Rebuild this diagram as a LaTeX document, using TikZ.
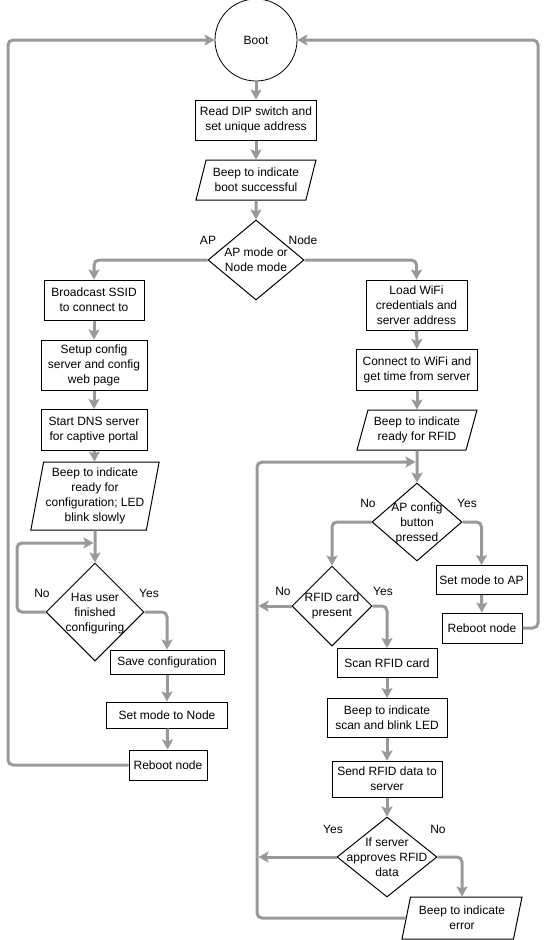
\documentclass[tikz,border=0pt]{standalone}
\usepackage{fontspec}
\setmainfont{Liberation Sans}
\usetikzlibrary{shapes.geometric,arrows.meta}
\definecolor{flowgray}{HTML}{999999}

\begin{document}
\begin{tikzpicture}[x=1pt,y=-1pt,
  every node/.style={font=\fontsize{12}{15}\selectfont, align=center},
  process/.style={draw, line width=1pt, inner sep=2pt},
  io/.style={trapezium, trapezium left angle=70, trapezium right angle=110,
    trapezium stretches body, draw, line width=1pt, inner sep=2pt,
    minimum width=120pt, minimum height=40pt},
  decision/.style={diamond, draw, line width=1pt, inner sep=0pt},
  flow/.style={draw=flowgray, line width=3pt, rounded corners=5pt,
    -{Stealth[length=10pt,width=11pt,inset=2pt]}},
]
\useasboundingbox (0,0) rectangle (548,940);

% Parameters
\def\leftrail{8}
\def\rightrail{538}
\def\looprail{257}

% Rails
\coordinate (leftrail) at (\leftrail,400);
\coordinate (rightrail) at (\rightrail,400);
\coordinate (looprail) at (\looprail,700);
\coordinate (cfgrail) at (17,580);
\coordinate (cfgin) at (93.5,543);
\coordinate (rfidin) at (415.5,462);
\coordinate (rfidno) at (\looprail+1.5,606);
\coordinate (approveyes) at (\looprail+1.5,857);

% Common part
\node[circle, draw, line width=0.8pt, minimum size=82pt, inner sep=0pt] (boot) at (256,40) {Boot};
\node[process, minimum width=121pt, minimum height=40pt] (readdip) at (256,120) {Read DIP switch and\\set unique address};
\node[io] (beepboot) at (256,180) {Beep to indicate\\boot successful};
\node[decision, minimum width=96pt, minimum height=80pt] (mode) at (256,260) {};
\node (modetext) at (mode) {AP mode or\\Node mode};
\node (apL) at (208,240) {AP};
\node (nodeL) at (303,240) {Node};

% AP mode
\node[process, minimum width=100pt, minimum height=40pt] (bcast) at (94,300) {Broadcast SSID\\to connect to};
\node[process, minimum width=106pt, minimum height=50pt] (setup) at (94,365) {Setup config\\server and config\\web page};
\node[process, minimum width=106pt, minimum height=41pt] (dns) at (94,430) {Start DNS server\\for captive portal};
\node[io, trapezium left angle=78, trapezium right angle=102, minimum width=120pt, minimum height=68pt] (beepcfg) at (95,496) {Beep to indicate\\ready for\\configuration; LED\\blink slowly};
\node[decision, minimum width=98pt, minimum height=98pt] (finished) at (95,612) {};
\node (finishedtext) at (95,614) {Has user\\finished\\configuring};
\node (finishedno) at (42,593) {No};
\node (finishedyes) at (149,593) {Yes};
\node[process, minimum width=114pt, minimum height=24pt] (savecfg) at (167,662) {Save configuration};
\node[process, minimum width=121pt, minimum height=26pt] (setnode) at (167,715) {Set mode to Node};
\node[process, minimum width=78pt, minimum height=30pt] (rebootap) at (168,765) {Reboot node};

% Node mode
\node[process, minimum width=101pt, minimum height=50pt] (loadwifi) at (416.5,305) {Load WiFi\\credentials and\\server address};
\node[process, minimum width=121pt, minimum height=41pt] (connect) at (417,370) {Connect to WiFi and\\get time from server};
\node[io] (beeprfid) at (417,430) {Beep to indicate\\ready for RFID};
\node[decision, minimum width=90pt, minimum height=78pt] (apbtn) at (417,522) {};
\node (apbtntext) at (417,523) {AP config\\button\\pressed};
\node (apbtnno) at (368,503) {No};
\node (apbtnyes) at (467,503) {Yes};
\node[process, minimum width=91pt, minimum height=29pt] (setap) at (481.5,580) {Set mode to AP};
\node[process, minimum width=80pt, minimum height=30pt] (rebootnode) at (482,628) {Reboot node};
\node[decision, minimum width=80pt, minimum height=80pt] (rfid) at (332,606) {};
\node (rfidtext) at (rfid) {RFID card\\present};
\node (rfidnoL) at (283,591) {No};
\node (rfidyesL) at (383,591) {Yes};
\node[process, minimum width=100pt, minimum height=29pt] (scan) at (387,663) {Scan RFID card};
\node[process, minimum width=120pt, minimum height=39pt] (beepscan) at (387,718) {Beep to indicate\\scan and blink LED};
\node[process, minimum width=110pt, minimum height=36pt] (send) at (387,779) {Send RFID data to\\server};
\node[decision, minimum width=100pt, minimum height=80pt] (approve) at (387,857) {};
\node (approvetext) at (approve) {If server\\approves RFID\\data};
\node (approveyesL) at (333,829) {Yes};
\node (approvenoL) at (438,829) {No};
\node[io, trapezium left angle=73, trapezium right angle=107, minimum height=42pt] (beeperr) at (462,918) {Beep to indicate\\error};

% Arrows
\draw[flow] (boot) -- (readdip);
\draw[flow] (readdip) -- (beepboot);
\draw[flow] (beepboot) -- (mode);
\draw[flow] (mode.west) -| (bcast.north);
\draw[flow] (mode.east) -| (loadwifi.north);

\draw[flow] (bcast) -- (setup);
\draw[flow] (setup) -- (dns);
\draw[flow] (dns) -- (beepcfg);
\draw[flow] (beepcfg) -- (finished);
\draw[flow] (finished.west) -| (cfgrail) |- (cfgin);
\draw[flow] (finished.east) -| (savecfg.north);
\draw[flow] (savecfg) -- (setnode);
\draw[flow] (setnode) -- (rebootap);
\draw[flow] (rebootap.west) -| (leftrail) |- (boot.west);

\draw[flow] (loadwifi) -- (connect);
\draw[flow] (connect) -- (beeprfid);
\draw[flow] (beeprfid) -- (apbtn);
\draw[flow] (apbtn.west) -| (rfid.north);
\draw[flow] (apbtn.east) -| (setap.north);
\draw[flow] (setap) -- (rebootnode);
\draw[flow] (rebootnode.east) -| (rightrail) |- (boot.east);
\draw[flow] (rfid.west) -- (rfidno);
\draw[flow] (rfid.east) -| (scan.north);
\draw[flow] (scan) -- (beepscan);
\draw[flow] (beepscan) -- (send);
\draw[flow] (send) -- (approve);
\draw[flow] (approve.west) -- (approveyes);
\draw[flow] (approve.east) -| (beeperr.north);
\draw[flow] (beeperr.west) -| (looprail) |- (rfidin);
\end{tikzpicture}
\end{document}
